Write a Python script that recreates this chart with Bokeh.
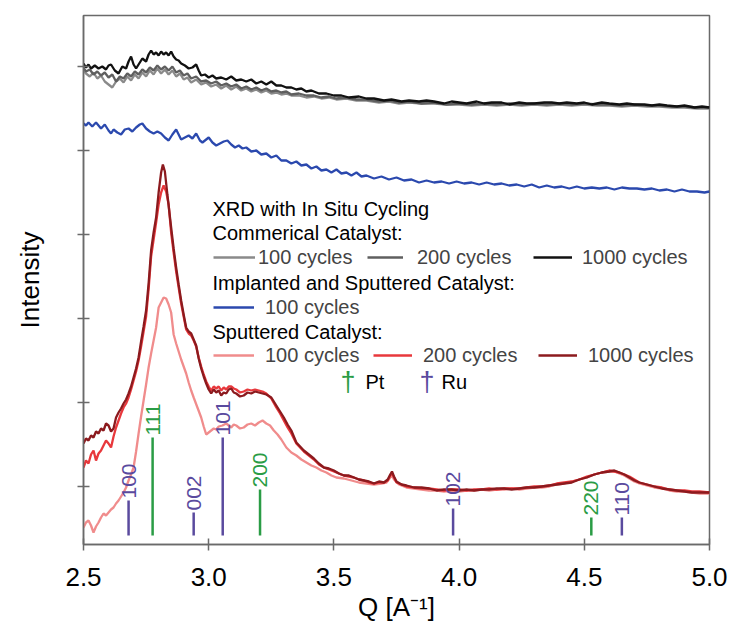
import numpy as np
from bokeh.plotting import figure
from bokeh.models import Range1d, FixedTicker, Legend, LegendItem, Label, PrintfTickFormatter
from bokeh.core.properties import value
from bokeh.embed import file_html
from bokeh.resources import INLINE

FONT = "Liberation Sans"

# ---------------- data (Q [1/A], intensity a.u.) ----------------
x_ticks = [2.5, 3.0, 3.5, 4.0, 4.5, 5.0]
y_ticks = [58, 142, 226, 310, 394, 478]

commercial_100 = [(2.500,474),(2.510,471),(2.525,468),(2.540,472),(2.555,466),(2.570,469),(2.585,463),(2.600,460),(2.615,457),(2.630,463),(2.645,466),(2.660,462),(2.675,468),(2.690,464),(2.705,470),(2.720,466),(2.735,472),(2.750,468),(2.765,474),(2.780,470),(2.795,476),(2.810,471),(2.825,475),(2.840,470),(2.855,474),(2.870,468),(2.885,471),(2.900,465),(2.915,467),(2.930,462),(2.950,465),(2.970,460),(2.990,462),(3.010,458),(3.030,460),(3.050,456),(3.070,459),(3.090,455),(3.110,458),(3.130,454),(3.150,456),(3.170,453),(3.190,455),(3.210,452),(3.230,454),(3.250,451),(3.270,452),(3.290,450),(3.310,451),(3.330,449),(3.360,449),(3.390,447),(3.420,448),(3.450,446),(3.480,447),(3.510,445),(3.550,446),(3.590,444),(3.630,444),(3.680,442),(3.720,443),(3.760,441),(3.800,442),(3.850,441),(3.900,441),(3.950,440),(4.000,440),(4.050,439),(4.100,440),(4.150,439),(4.200,440),(4.250,439),(4.300,440),(4.350,439),(4.400,440),(4.450,439),(4.500,440),(4.550,439),(4.600,439),(4.650,438),(4.700,439),(4.750,438),(4.800,438),(4.850,437),(4.900,437),(4.950,436),(5.000,436)]

commercial_200 = [(2.500,477),(2.510,473),(2.525,475),(2.540,470),(2.555,473),(2.570,469),(2.585,472),(2.600,467),(2.615,470),(2.630,463),(2.645,468),(2.660,466),(2.675,471),(2.690,468),(2.705,473),(2.720,470),(2.735,475),(2.750,472),(2.765,477),(2.780,474),(2.795,479),(2.810,475),(2.825,478),(2.840,474),(2.855,478),(2.870,472),(2.885,474),(2.900,469),(2.915,471),(2.930,466),(2.950,468),(2.970,463),(2.990,464),(3.010,461),(3.030,463),(3.050,459),(3.070,461),(3.090,458),(3.110,460),(3.130,456),(3.150,458),(3.170,455),(3.190,457),(3.210,454),(3.230,456),(3.250,453),(3.270,454),(3.290,452),(3.310,453),(3.330,450),(3.360,451),(3.390,449),(3.420,449),(3.450,447),(3.480,448),(3.510,446),(3.550,447),(3.590,445),(3.630,445),(3.680,443),(3.720,444),(3.760,442),(3.800,443),(3.850,441),(3.900,442),(3.950,440),(4.000,441),(4.050,440),(4.100,441),(4.150,440),(4.200,441),(4.250,440),(4.300,441),(4.350,440),(4.400,441),(4.450,440),(4.500,441),(4.550,440),(4.600,440),(4.650,439),(4.700,440),(4.750,439),(4.800,439),(4.850,438),(4.900,438),(4.950,437),(5.000,437)]

commercial_1000 = [(2.500,481),(2.510,477),(2.520,480),(2.530,476),(2.545,479),(2.560,476),(2.575,478),(2.590,475),(2.600,479),(2.610,480),(2.625,474),(2.640,471),(2.655,478),(2.670,476),(2.680,483),(2.690,488),(2.700,480),(2.710,476),(2.720,480),(2.735,486),(2.750,483),(2.760,490),(2.770,494),(2.780,490),(2.790,492),(2.800,489),(2.810,493),(2.820,490),(2.830,492),(2.840,489),(2.850,493),(2.860,488),(2.870,485),(2.880,484),(2.890,481),(2.905,479),(2.920,476),(2.935,477),(2.950,480),(2.960,474),(2.970,469),(2.985,470),(3.000,467),(3.015,469),(3.030,466),(3.050,467),(3.070,465),(3.090,468),(3.110,464),(3.130,465),(3.150,463),(3.170,465),(3.190,461),(3.210,463),(3.230,460),(3.250,463),(3.270,459),(3.290,459),(3.310,457),(3.330,457),(3.350,455),(3.370,456),(3.390,453),(3.410,454),(3.440,451),(3.470,451),(3.500,449),(3.530,449),(3.560,447),(3.600,448),(3.630,446),(3.660,446),(3.700,444),(3.730,445),(3.770,443),(3.800,444),(3.840,443),(3.870,444),(3.900,443),(3.940,441),(3.970,443),(4.000,442),(4.030,441),(4.070,443),(4.100,441),(4.130,442),(4.170,442),(4.200,440),(4.240,442),(4.270,441),(4.300,441),(4.340,442),(4.370,442),(4.400,441),(4.430,442),(4.470,441),(4.500,442),(4.530,440),(4.570,442),(4.600,441),(4.640,440),(4.670,441),(4.700,440),(4.740,440),(4.770,439),(4.800,440),(4.830,439),(4.870,438),(4.900,439),(4.940,437),(4.970,438),(5.000,437)]

implanted_100 = [(2.500,421),(2.510,419),(2.520,422),(2.535,418),(2.550,422),(2.560,419),(2.570,416),(2.585,420),(2.600,414),(2.610,411),(2.620,415),(2.635,412),(2.650,410),(2.665,415),(2.680,416),(2.695,413),(2.710,417),(2.725,420),(2.735,421),(2.750,416),(2.765,413),(2.780,411),(2.795,413),(2.810,411),(2.825,407),(2.840,404),(2.855,410),(2.870,415),(2.880,410),(2.890,405),(2.905,407),(2.920,409),(2.935,406),(2.950,411),(2.965,404),(2.975,402),(2.990,405),(3.000,407),(3.015,402),(3.030,399),(3.045,401),(3.060,403),(3.075,404),(3.090,400),(3.105,397),(3.120,399),(3.135,396),(3.150,397),(3.170,393),(3.190,394),(3.210,390),(3.230,391),(3.250,387),(3.270,389),(3.290,384),(3.310,384),(3.330,381),(3.350,383),(3.370,379),(3.390,380),(3.410,376),(3.430,378),(3.450,374),(3.470,375),(3.490,372),(3.510,375),(3.530,371),(3.550,372),(3.570,369),(3.590,372),(3.610,368),(3.630,369),(3.660,366),(3.690,368),(3.720,365),(3.750,367),(3.780,364),(3.810,365),(3.840,362),(3.870,364),(3.900,362),(3.930,363),(3.960,361),(3.990,363),(4.020,361),(4.050,362),(4.080,360),(4.110,362),(4.140,360),(4.170,361),(4.200,359),(4.230,360),(4.260,358),(4.290,360),(4.320,357),(4.350,359),(4.380,357),(4.410,358),(4.440,356),(4.470,358),(4.500,356),(4.530,357),(4.560,356),(4.590,357),(4.620,355),(4.650,357),(4.680,356),(4.710,356),(4.740,355),(4.770,356),(4.800,354),(4.830,355),(4.860,353),(4.890,355),(4.920,353),(4.950,353),(4.980,352),(5.000,353)]

sputtered_100 = [(2.500,17),(2.510,22),(2.520,24),(2.530,19),(2.540,12),(2.550,18),(2.560,22),(2.570,27),(2.580,31),(2.590,29),(2.600,32),(2.610,35),(2.620,37),(2.630,41),(2.640,44),(2.650,48),(2.660,52),(2.670,57),(2.680,64),(2.690,70),(2.700,77),(2.710,93),(2.720,111),(2.730,128),(2.740,144),(2.750,160),(2.760,177),(2.770,191),(2.780,204),(2.790,217),(2.800,237),(2.810,242),(2.820,247),(2.830,246),(2.840,240),(2.850,232),(2.860,210),(2.870,201),(2.880,193),(2.890,185),(2.900,178),(2.910,171),(2.920,162),(2.930,154),(2.940,147),(2.955,137),(2.970,127),(2.980,118),(2.990,110),(3.000,112),(3.010,114),(3.020,116),(3.030,115),(3.040,118),(3.055,119),(3.070,121),(3.080,119),(3.090,117),(3.100,120),(3.110,119),(3.125,116),(3.140,117),(3.155,120),(3.170,121),(3.185,119),(3.200,122),(3.215,124),(3.230,121),(3.245,119),(3.260,114),(3.275,110),(3.290,105),(3.310,97),(3.330,92),(3.350,89),(3.370,85),(3.390,82),(3.410,79),(3.430,77),(3.450,74),(3.470,72),(3.490,69),(3.510,67),(3.540,66),(3.570,64),(3.600,62),(3.630,61),(3.660,60),(3.690,61),(3.710,62),(3.725,67),(3.732,69),(3.740,65),(3.760,60),(3.790,57),(3.820,56),(3.850,55),(3.880,54),(3.910,54),(3.940,53),(3.970,54),(4.000,53),(4.030,54),(4.060,54),(4.090,55),(4.120,54),(4.150,55),(4.180,55),(4.210,56),(4.240,55),(4.270,56),(4.300,57),(4.330,57),(4.360,58),(4.390,60),(4.420,61),(4.450,63),(4.480,65),(4.510,67),(4.540,70),(4.570,72),(4.600,73),(4.620,73),(4.640,71),(4.660,69),(4.680,66),(4.700,63),(4.720,61),(4.750,59),(4.780,57),(4.810,56),(4.840,54),(4.870,53),(4.900,53),(4.930,52),(4.960,51),(5.000,51)]

sputtered_200 = [(2.500,77),(2.510,84),(2.520,81),(2.530,90),(2.540,94),(2.550,84),(2.560,91),(2.570,94),(2.580,99),(2.590,104),(2.600,101),(2.610,97),(2.620,108),(2.630,117),(2.640,124),(2.650,131),(2.660,137),(2.670,141),(2.680,147),(2.690,155),(2.700,164),(2.710,173),(2.720,184),(2.730,198),(2.740,213),(2.750,228),(2.760,255),(2.770,288),(2.780,305),(2.790,322),(2.800,340),(2.810,352),(2.820,359),(2.830,353),(2.840,340),(2.850,312),(2.860,292),(2.870,273),(2.880,257),(2.890,241),(2.900,228),(2.910,215),(2.920,211),(2.930,209),(2.940,204),(2.950,198),(2.960,187),(2.970,178),(2.980,170),(2.990,163),(3.000,158),(3.010,154),(3.020,158),(3.030,156),(3.040,158),(3.050,154),(3.060,157),(3.070,155),(3.080,158),(3.090,158),(3.100,156),(3.110,155),(3.125,152),(3.140,153),(3.155,155),(3.170,154),(3.185,155),(3.200,154),(3.215,153),(3.230,151),(3.250,146),(3.270,137),(3.285,131),(3.300,124),(3.315,117),(3.330,111),(3.350,101),(3.380,93),(3.400,89),(3.420,85),(3.440,80),(3.460,77),(3.480,75),(3.500,73),(3.520,71),(3.540,69),(3.560,68),(3.580,67),(3.600,65),(3.620,64),(3.640,62),(3.660,61),(3.680,62),(3.700,62),(3.715,64),(3.725,69),(3.732,71),(3.740,67),(3.750,62),(3.770,60),(3.790,58),(3.820,57),(3.850,56),(3.880,56),(3.910,55),(3.940,54),(3.970,55),(4.000,55),(4.030,54),(4.060,55),(4.090,55),(4.120,56),(4.150,55),(4.180,56),(4.210,56),(4.240,56),(4.270,57),(4.300,58),(4.330,58),(4.360,59),(4.390,61),(4.420,62),(4.450,63),(4.480,65),(4.510,68),(4.540,70),(4.570,72),(4.600,74),(4.620,73),(4.640,72),(4.660,70),(4.680,68),(4.700,65),(4.720,62),(4.750,60),(4.780,58),(4.810,57),(4.840,55),(4.870,54),(4.900,54),(4.930,53),(4.960,53),(5.000,52)]

sputtered_1000 = [(2.500,101),(2.510,106),(2.520,104),(2.530,109),(2.540,107),(2.550,113),(2.560,111),(2.570,116),(2.580,114),(2.590,121),(2.600,119),(2.610,113),(2.620,116),(2.630,127),(2.640,132),(2.650,136),(2.660,141),(2.670,145),(2.680,151),(2.690,158),(2.700,167),(2.710,176),(2.720,187),(2.730,203),(2.740,218),(2.750,234),(2.760,261),(2.770,294),(2.780,312),(2.790,327),(2.800,352),(2.810,372),(2.817,380),(2.825,373),(2.835,350),(2.850,317),(2.860,296),(2.870,277),(2.880,260),(2.890,244),(2.900,230),(2.910,217),(2.920,213),(2.930,211),(2.940,205),(2.950,199),(2.960,186),(2.970,176),(2.980,168),(2.990,161),(3.000,155),(3.010,151),(3.020,155),(3.030,152),(3.040,154),(3.050,149),(3.060,152),(3.070,151),(3.080,155),(3.090,156),(3.100,152),(3.110,151),(3.125,148),(3.140,149),(3.155,152),(3.170,151),(3.185,153),(3.200,152),(3.215,151),(3.230,150),(3.250,147),(3.270,139),(3.285,133),(3.300,127),(3.315,120),(3.330,114),(3.350,102),(3.380,94),(3.400,90),(3.420,86),(3.440,81),(3.460,77),(3.480,76),(3.500,74),(3.520,71),(3.540,69),(3.560,69),(3.580,67),(3.600,65),(3.620,64),(3.640,63),(3.660,61),(3.680,63),(3.700,62),(3.715,65),(3.725,70),(3.732,73),(3.740,68),(3.750,63),(3.770,60),(3.790,59),(3.820,57),(3.850,57),(3.880,56),(3.910,54),(3.940,55),(3.970,55),(4.000,54),(4.030,55),(4.060,54),(4.090,55),(4.120,55),(4.150,56),(4.180,56),(4.210,55),(4.240,56),(4.270,57),(4.300,57),(4.330,58),(4.360,59),(4.390,60),(4.420,61),(4.450,62),(4.480,65),(4.510,67),(4.540,70),(4.570,72),(4.600,73),(4.620,74),(4.640,72),(4.660,70),(4.680,67),(4.700,64),(4.720,62),(4.750,60),(4.780,58),(4.810,56),(4.840,55),(4.870,54),(4.900,53),(4.930,52),(4.960,52),(5.000,52)]

# reference reflections (Q position, relative height)
stick_base = 9
pt_q = [2.776, 3.205, 4.528]
pt_top = [107, 55, 27]
pt_labels = ["111", "200", "220"]
ru_q = [2.680, 2.940, 3.056, 3.976, 4.650]
ru_top = [44, 32, 107, 36, 27]
ru_labels = ["100", "002", "101", "102", "110"]

# ---------------- figure ----------------
p = figure(width=728, height=636, output_backend="svg", toolbar_location=None,
           x_range=Range1d(2.5, 5.0), y_range=Range1d(0, 529),
           min_border_left=83, min_border_right=19, min_border_top=15, min_border_bottom=92,
           background_fill_color="white", border_fill_color="white")

def xy(pairs):
    return [a for a, _ in pairs], [b for _, b in pairs]

C_G1, C_G2, C_BLK = "#8a8a8a", "#5f5f5f", "#111111"
C_BLUE = "#2b49ae"
C_PINK, C_RED, C_DRED = "#f08c8c", "#e8383c", "#8c1a1e"
C_PT, C_RU = "#2a9c45", "#5a4a9e"

LW = 2.3
r_g1 = p.line(*xy(commercial_100), line_color=C_G1, line_width=LW)
r_g2 = p.line(*xy(commercial_200), line_color=C_G2, line_width=LW)
r_blk = p.line(*xy(commercial_1000), line_color=C_BLK, line_width=LW)
r_blue = p.line(*xy(implanted_100), line_color=C_BLUE, line_width=LW)
r_pink = p.line(*xy(sputtered_100), line_color=C_PINK, line_width=LW)
r_red = p.line(*xy(sputtered_200), line_color=C_RED, line_width=LW)
r_dred = p.line(*xy(sputtered_1000), line_color=C_DRED, line_width=LW)

# stick markers
p.segment(x0=pt_q, y0=[stick_base] * len(pt_q), x1=pt_q, y1=pt_top, line_color=C_PT, line_width=2.5)
p.segment(x0=ru_q, y0=[stick_base] * len(ru_q), x1=ru_q, y1=ru_top, line_color=C_RU, line_width=2.5)
p.text(x=pt_q, y=pt_top, text=pt_labels, angle=np.pi / 2, text_align="left", text_baseline="middle",
       y_offset=-2, text_font=value(FONT), text_font_size="21px", text_color=C_PT)
p.text(x=ru_q, y=ru_top, text=ru_labels, angle=np.pi / 2, text_align="left", text_baseline="middle",
       y_offset=-2, text_font=value(FONT), text_font_size="21px", text_color=C_RU)

# ---------------- axes ----------------
AX = "#6a6a6a"
p.xgrid.visible = False
p.ygrid.visible = False
p.outline_line_color = AX
p.outline_line_width = 1.5

p.xaxis.ticker = FixedTicker(ticks=x_ticks)
p.xaxis.formatter = PrintfTickFormatter(format="%.1f")
p.yaxis.ticker = FixedTicker(ticks=y_ticks)
p.yaxis.major_label_overrides = {t: "" for t in y_ticks}
for ax in (p.xaxis, p.yaxis):
    ax.axis_line_color = AX
    ax.axis_line_width = 1.5
    ax.major_tick_line_color = AX
    ax.major_tick_line_width = 1.5
    ax.major_tick_in = 6
    ax.major_tick_out = 6
    ax.minor_tick_line_color = None
    ax.major_label_text_font = FONT
    ax.major_label_text_font_size = "26px"
    ax.major_label_text_color = "black"
    ax.axis_label_text_font = FONT
    ax.axis_label_text_font_size = "26px"
    ax.axis_label_text_font_style = "normal"
    ax.axis_label_text_color = "black"

p.xaxis.axis_label = "Q [A\u207b\u00b9]"
p.xaxis.major_label_standoff = 17
p.xaxis.axis_label_standoff = 3
p.yaxis.axis_label = "Intensity"
p.yaxis.major_label_standoff = 0
p.yaxis.axis_label_standoff = 33

# ---------------- legend ----------------
LFS = "20px"
def add_item(renderer, label, fx, fy, standoff, gw):
    lg = Legend(items=[LegendItem(label=label, renderers=[renderer])], location=(fx, fy - 12),
                orientation="horizontal", padding=0, margin=0, spacing=0,
                border_line_alpha=0, background_fill_alpha=0,
                label_text_font=FONT, label_text_font_size=LFS, label_standoff=standoff,
                glyph_width=gw, glyph_height=24, label_height=24)
    p.add_layout(lg, "center")

add_item(r_g1, "100 cycles", 130, 287, 3, 42)
add_item(r_g2, "200 cycles", 284, 287, 14, 36)
add_item(r_blk, "1000 cycles", 450, 287, 10, 39)
add_item(r_blue, "100 cycles", 130, 237, 11, 41)
add_item(r_pink, "100 cycles", 130, 189, 11, 41)
add_item(r_red, "200 cycles", 290, 189, 11, 39)
add_item(r_dred, "1000 cycles", 455, 189, 11, 39)

def add_label(text, fx, fy, color="black", size=LFS):
    p.add_layout(Label(x=fx, y=fy, x_units="screen", y_units="screen", text=text,
                       text_font=FONT, text_font_size=size, text_color=color,
                       text_baseline="middle", text_align="left"))

add_label("XRD with In Situ Cycling", 129, 336)
add_label("Commerical Catalyst:", 129, 312)
add_label("Implanted and Sputtered Catalyst:", 129, 262)
add_label("Sputtered Catalyst:", 129, 213)
add_label("\u2020", 257, 163, C_PT, "27px")
add_label("Pt", 282, 163)
add_label("\u2020", 336, 163, C_RU, "27px")
add_label("Ru", 358, 163)

open("out.html", "w").write(file_html(p, INLINE))
